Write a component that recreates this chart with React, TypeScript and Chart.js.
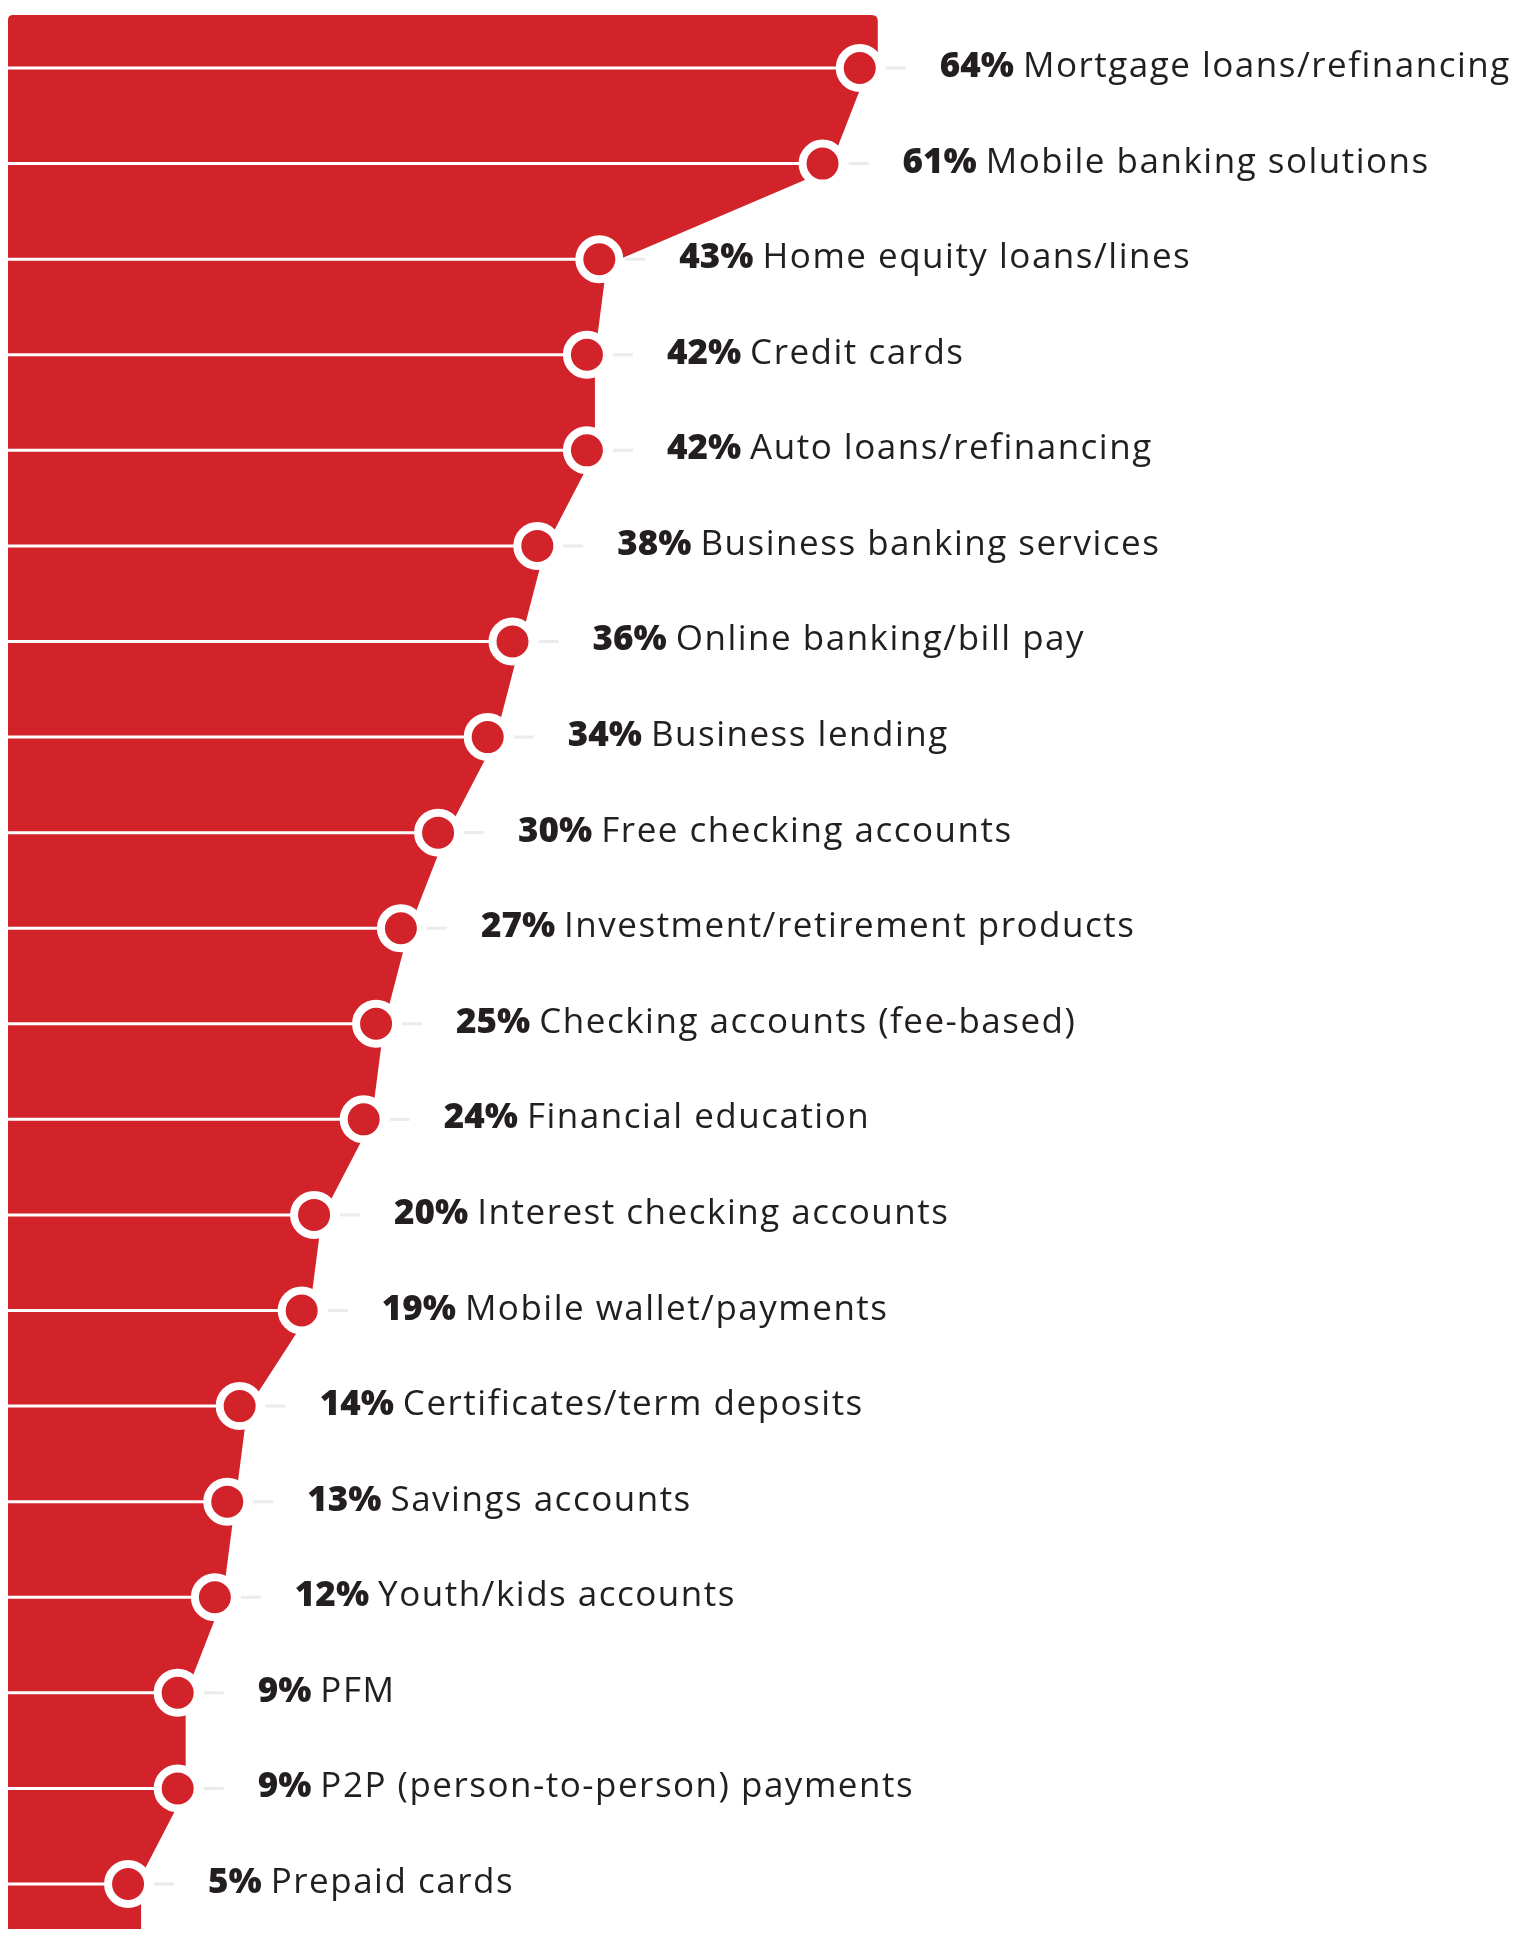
import React, { useEffect, useRef } from "react";
import { Chart, registerables } from "chart.js";

Chart.register(...registerables);

const categories: string[] = [
  "Mortgage loans/refinancing",
  "Mobile banking solutions",
  "Home equity loans/lines",
  "Credit cards",
  "Auto loans/refinancing",
  "Business banking services",
  "Online banking/bill pay",
  "Business lending",
  "Free checking accounts",
  "Investment/retirement products",
  "Checking accounts (fee-based)",
  "Financial education",
  "Interest checking accounts",
  "Mobile wallet/payments",
  "Certificates/term deposits",
  "Savings accounts",
  "Youth/kids accounts",
  "PFM",
  "P2P (person-to-person) payments",
  "Prepaid cards",
];

const values: number[] = [64, 61, 43, 42, 42, 38, 36, 34, 30, 27, 25, 24, 20, 19, 14, 13, 12, 9, 9, 5];

const RED = "#d2232a";
const TEXT = "#231f20";
const FONT = "'Open Sans', Lato, sans-serif";

const decorPlugin = {
  id: "decor",
  beforeDatasetsDraw(chart: any) {
    const { ctx, chartArea } = chart;
    const pts = chart.getDatasetMeta(0).data;
    if (!pts.length) return;
    const first = pts[0];
    const last = pts[pts.length - 1];
    const L = chartArea.left;
    const T = chartArea.top;
    const B = chartArea.bottom;
    const r = 6;
    ctx.save();
    ctx.fillStyle = RED;
    ctx.beginPath();
    ctx.moveTo(L, T + 5);
    ctx.quadraticCurveTo(L, T, L + 5, T);
    ctx.lineTo(first.x + 18 - r, T);
    ctx.quadraticCurveTo(first.x + 18, T, first.x + 18, T + r);
    ctx.lineTo(first.x + 18, first.y);
    pts.forEach((p: any) => ctx.lineTo(p.x, p.y));
    ctx.lineTo(last.x + 13, last.y);
    ctx.lineTo(last.x + 13, B);
    ctx.lineTo(L, B);
    ctx.closePath();
    ctx.fill();
    ctx.restore();
  },
  afterDatasetsDraw(chart: any) {
    const { ctx } = chart;
    const pts = chart.getDatasetMeta(0).data;
    ctx.save();
    pts.forEach((p: any, i: number) => {
      ctx.strokeStyle = "#ebebeb";
      ctx.lineWidth = 3;
      ctx.beginPath();
      ctx.moveTo(p.x + 26, p.y);
      ctx.lineTo(p.x + 46, p.y);
      ctx.stroke();

      const pct = values[i] + "%";
      const tx = p.x + 80;
      const ty = p.y + 9;
      ctx.fillStyle = TEXT;
      ctx.textBaseline = "alphabetic";
      ctx.textAlign = "left";
      (ctx as any).letterSpacing = "0px";
      ctx.font = `800 35px ${FONT}`;
      ctx.fillText(pct, tx, ty);
      const w = ctx.measureText(pct).width;
      (ctx as any).letterSpacing = "1.5px";
      ctx.font = `400 35px ${FONT}`;
      ctx.fillText(categories[i], tx + w + 9, ty);
    });
    ctx.restore();
  },
};

const gridPlugin = {
  id: "whiteLines",
  beforeDatasetDraw(chart: any) {
    const { ctx, chartArea } = chart;
    const pts = chart.getDatasetMeta(0).data;
    ctx.save();
    ctx.strokeStyle = "#ffffff";
    ctx.lineWidth = 3;
    pts.forEach((p: any) => {
      ctx.beginPath();
      ctx.moveTo(chartArea.left, p.y);
      ctx.lineTo(p.x, p.y);
      ctx.stroke();
    });
    ctx.restore();
  },
};

export default function App() {
  const ref = useRef<HTMLCanvasElement | null>(null);

  useEffect(() => {
    document.documentElement.style.overflow = "hidden";
    const canvas = ref.current;
    if (!canvas) return;
    const chart = new Chart(canvas, {
      type: "line",
      data: {
        datasets: [
          {
            data: values.map((v, i) => ({ x: v, y: i })),
            borderColor: RED,
            borderWidth: 16,
            fill: false,
            tension: 0,
            pointRadius: 20,
            pointBorderWidth: 8,
            pointBackgroundColor: RED,
            pointBorderColor: "#ffffff",
            pointHoverRadius: 20,
          } as any,
        ],
      },
      options: {
        indexAxis: "y",
        animation: false,
        responsive: false,
        events: [],
        layout: { autoPadding: false, padding: { top: 7, left: 0, right: 0, bottom: 0 } },
        scales: {
          x: { type: "linear", display: false, min: -4.68, max: 117.4 },
          y: { type: "linear", display: false, reverse: true, min: -0.555, max: 19.555 },
        },
        plugins: {
          legend: { display: false },
          tooltip: { enabled: false },
        },
      } as any,
      plugins: [decorPlugin, gridPlugin],
    });
    return () => chart.destroy();
  }, []);

  return (
    <div style={{ height: 1921, position: "relative" }}>
      <canvas
        ref={ref}
        width={1514}
        height={1929}
        style={{ display: "block", width: 1514, height: 1929 }}
      />
    </div>
  );
}
